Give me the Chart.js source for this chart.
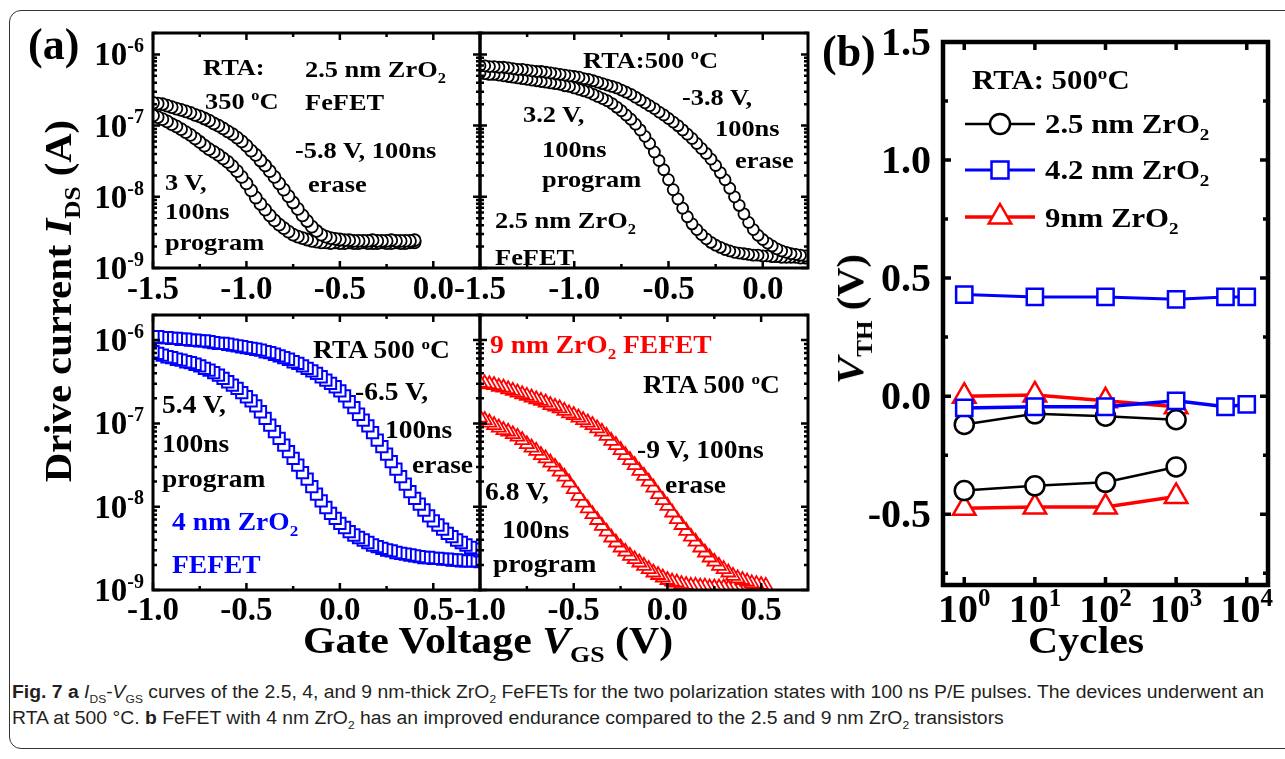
<!DOCTYPE html>
<html>
<head>
<meta charset="utf-8">
<title>Fig. 7 ZrO2 FeFET</title>
<script src="https://cdn.jsdelivr.net/npm/chart.js@4.4.1/dist/chart.umd.min.js"></script>
<style>
  body { margin: 0; background: #fff; }
  #page { position: relative; width: 1285px; height: 759px; overflow: hidden;
          font-family: "Liberation Serif", "Times New Roman", serif; color: #000; }
  #box { position: absolute; left: 9px; top: 10px; width: 1340px; height: 739px;
         border: 1.5px solid #333; border-radius: 12px; box-sizing: border-box; }
  canvas { position: absolute; }
  .t { position: absolute; font-weight: bold; white-space: nowrap; line-height: 1;
       transform-origin: 0 0; transform: scaleX(1.1); }
  .t sub, .t sup, .rt sub, .cap sub { font-size: 62%; line-height: 0; }
  .rt { position: absolute; font-weight: bold; font-size: 38px; white-space: nowrap; line-height: 1;
        transform: translate(-50%, -50%) rotate(-90deg) scaleX(1.07); }
  .cap { position: absolute; left: 12px; font-size: 18px; line-height: 1; white-space: nowrap;
         font-family: "Liberation Sans Narrow", "Liberation Sans", "Open Sans", sans-serif;
         color: #231f20; transform-origin: 0 0; }
</style>
</head>
<body>
<div id="page">
  <div id="box"></div>
  <canvas id="cTL" width="450" height="300" style="left:40px;top:20px"></canvas>
  <canvas id="cTR" width="400" height="300" style="left:420px;top:20px"></canvas>
  <canvas id="cBL" width="450" height="350" style="left:40px;top:300px"></canvas>
  <canvas id="cBR" width="400" height="350" style="left:420px;top:300px"></canvas>
  <canvas id="cB" width="425" height="630" style="left:860px;top:20px"></canvas>
  <div class="rt" style="left:58px;top:301px">Drive current <i>I</i><sub>DS</sub> (A)</div>
  <div class="rt" style="left:850px;top:319px"><i>V</i><sub>TH</sub> (V)</div>
  <div class="cap" id="cap1" style="top:683px"><b>Fig. 7 a</b> <i>I</i><sub>DS</sub>-<i>V</i><sub>GS</sub> curves of the 2.5, 4, and 9 nm-thick ZrO<sub>2</sub> FeFETs for the two polarization states with 100 ns P/E pulses. The devices underwent an</div>
  <div class="cap" id="cap2" style="top:709px">RTA at 500 °C. <b>b</b> FeFET with 4 nm ZrO<sub>2</sub> has an improved endurance compared to the 2.5 and 9 nm ZrO<sub>2</sub> transistors</div>
</div>

<script>
// gate voltage sweeps (V)
const vgsTop = [-1.5,-1.475,-1.45,-1.425,-1.4,-1.375,-1.35,-1.325,-1.3,-1.275,
  -1.25,-1.225,-1.2,-1.175,-1.15,-1.125,-1.1,-1.075,-1.05,-1.025,
  -1,-0.975,-0.95,-0.925,-0.9,-0.875,-0.85,-0.825,-0.8,-0.775,
  -0.75,-0.725,-0.7,-0.675,-0.65,-0.625,-0.6,-0.575,-0.55,-0.525,
  -0.5,-0.475,-0.45,-0.425,-0.4,-0.375,-0.35,-0.325,-0.3,-0.275,
  -0.25,-0.225,-0.2,-0.175,-0.15,-0.125,-0.1,-0.075,-0.05,-0.025,
  0,0.025,0.05,0.075,0.1,0.125,0.15,0.175,0.2,0.225];
const vgsBottom = [-1,-0.975,-0.95,-0.925,-0.9,-0.875,-0.85,-0.825,-0.8,-0.775,
  -0.75,-0.725,-0.7,-0.675,-0.65,-0.625,-0.6,-0.575,-0.55,-0.525,
  -0.5,-0.475,-0.45,-0.425,-0.4,-0.375,-0.35,-0.325,-0.3,-0.275,
  -0.25,-0.225,-0.2,-0.175,-0.15,-0.125,-0.1,-0.075,-0.05,-0.025,
  0,0.025,0.05,0.075,0.1,0.125,0.15,0.175,0.2,0.225,
  0.25,0.275,0.3,0.325,0.35,0.375,0.4,0.425,0.45,0.475,
  0.5,0.525,0.55,0.575,0.6,0.625,0.65,0.675,0.7,0.725,0.75];

// log10(IDS / A)
// 2.5 nm, RTA 350 C
const logIds25_350Erase = [-6.68,-6.69,-6.70,-6.72,-6.74,-6.76,-6.78,-6.80,-6.82,-6.85,
  -6.87,-6.90,-6.93,-6.97,-7.00,-7.04,-7.08,-7.12,-7.17,-7.22,
  -7.28,-7.35,-7.41,-7.49,-7.56,-7.64,-7.72,-7.81,-7.90,-7.99,
  -8.08,-8.17,-8.26,-8.34,-8.42,-8.48,-8.53,-8.56,-8.58,-8.59,
  -8.60,-8.61,-8.61,-8.62,-8.62,-8.62,-8.62,-8.61,-8.62,-8.62,
  -8.62,-8.61,-8.62,-8.62,-8.62,-8.62,-8.61];
const logIds25_350Program = [-6.86,-6.88,-6.91,-6.94,-6.98,-7.01,-7.05,-7.09,-7.13,-7.18,
  -7.23,-7.28,-7.33,-7.37,-7.41,-7.46,-7.51,-7.57,-7.64,-7.72,
  -7.81,-7.91,-8.01,-8.10,-8.18,-8.26,-8.33,-8.39,-8.44,-8.49,
  -8.53,-8.56,-8.58,-8.60,-8.62,-8.63,-8.64,-8.64,-8.65,-8.64,
  -8.65,-8.65,-8.64,-8.65,-8.65,-8.64,-8.65,-8.65,-8.65,-8.64,
  -8.65,-8.65,-8.64,-8.65,-8.65,-8.64,-8.64];
// 2.5 nm, RTA 500 C
const logIds25_500Erase = [-6.16,-6.16,-6.17,-6.17,-6.18,-6.18,-6.19,-6.20,-6.21,-6.21,
  -6.22,-6.23,-6.24,-6.24,-6.25,-6.26,-6.27,-6.28,-6.29,-6.30,
  -6.31,-6.32,-6.34,-6.35,-6.37,-6.39,-6.41,-6.43,-6.45,-6.47,
  -6.50,-6.53,-6.56,-6.60,-6.64,-6.68,-6.72,-6.76,-6.81,-6.85,
  -6.90,-6.95,-7.00,-7.06,-7.12,-7.18,-7.25,-7.32,-7.39,-7.47,
  -7.56,-7.66,-7.76,-7.88,-8.00,-8.12,-8.24,-8.36,-8.46,-8.54,
  -8.60,-8.65,-8.69,-8.73,-8.76,-8.78,-8.80,-8.81,-8.82,-8.83];
const logIds25_500Program = [-6.26,-6.27,-6.28,-6.28,-6.29,-6.30,-6.31,-6.32,-6.33,-6.34,
  -6.35,-6.36,-6.37,-6.38,-6.39,-6.40,-6.41,-6.42,-6.44,-6.45,
  -6.47,-6.49,-6.51,-6.53,-6.56,-6.59,-6.62,-6.65,-6.69,-6.74,
  -6.79,-6.85,-6.91,-6.98,-7.06,-7.15,-7.25,-7.37,-7.49,-7.62,
  -7.76,-7.90,-8.03,-8.16,-8.28,-8.38,-8.46,-8.53,-8.59,-8.64,
  -8.68,-8.71,-8.74,-8.76,-8.78,-8.79,-8.80,-8.81,-8.82,-8.82,
  -8.83,-8.83,-8.84,-8.84,-8.85,-8.85,-8.85,-8.85,-8.86,-8.86];
// 4 nm, RTA 500 C
const logIds4Erase = [-5.96,-5.96,-5.97,-5.97,-5.98,-5.98,-5.99,-5.99,-6.00,-6.00,
  -6.01,-6.01,-6.02,-6.03,-6.04,-6.04,-6.05,-6.06,-6.07,-6.08,
  -6.09,-6.10,-6.11,-6.12,-6.14,-6.15,-6.17,-6.19,-6.21,-6.23,
  -6.26,-6.28,-6.31,-6.34,-6.37,-6.40,-6.44,-6.48,-6.52,-6.56,
  -6.61,-6.67,-6.74,-6.81,-6.89,-6.96,-7.03,-7.11,-7.20,-7.28,
  -7.37,-7.46,-7.55,-7.64,-7.73,-7.82,-7.90,-7.97,-8.04,-8.11,
  -8.17,-8.22,-8.27,-8.32,-8.36,-8.40,-8.43,-8.46,-8.49,-8.51,-8.53];
const logIds4Program = [-6.14,-6.16,-6.18,-6.20,-6.21,-6.23,-6.24,-6.26,-6.27,-6.29,
  -6.31,-6.34,-6.36,-6.39,-6.42,-6.46,-6.50,-6.54,-6.58,-6.63,
  -6.68,-6.73,-6.79,-6.86,-6.94,-7.02,-7.10,-7.18,-7.26,-7.34,
  -7.42,-7.50,-7.59,-7.67,-7.76,-7.85,-7.93,-8.01,-8.08,-8.14,
  -8.20,-8.25,-8.30,-8.34,-8.37,-8.40,-8.43,-8.46,-8.48,-8.50,
  -8.52,-8.53,-8.55,-8.56,-8.57,-8.58,-8.59,-8.60,-8.61,-8.61,
  -8.62,-8.62,-8.63,-8.63,-8.64,-8.64,-8.65,-8.65,-8.65,-8.65,-8.66];
// 9 nm, RTA 500 C
const logIds9Erase = [-6.51,-6.52,-6.53,-6.54,-6.56,-6.57,-6.59,-6.61,-6.63,-6.65,
  -6.67,-6.69,-6.71,-6.73,-6.75,-6.78,-6.80,-6.82,-6.85,-6.88,
  -6.90,-6.93,-6.96,-6.99,-7.02,-7.06,-7.10,-7.15,-7.21,-7.26,
  -7.32,-7.38,-7.44,-7.50,-7.57,-7.63,-7.70,-7.77,-7.85,-7.92,
  -7.99,-8.07,-8.15,-8.22,-8.29,-8.36,-8.42,-8.49,-8.55,-8.61,
  -8.66,-8.71,-8.75,-8.79,-8.83,-8.86,-8.88,-8.90,-8.92,-8.93,
  -8.94,-8.95];
const logIds9Program = [-6.93,-6.96,-6.99,-7.02,-7.05,-7.08,-7.10,-7.13,-7.16,-7.20,
  -7.25,-7.29,-7.33,-7.38,-7.42,-7.47,-7.52,-7.58,-7.64,-7.71,
  -7.79,-7.87,-7.95,-8.02,-8.09,-8.16,-8.23,-8.30,-8.37,-8.43,
  -8.49,-8.54,-8.59,-8.63,-8.67,-8.71,-8.75,-8.79,-8.82,-8.85,
  -8.88,-8.90,-8.91,-8.93,-8.94,-8.95,-8.95,-8.96,-8.96,-8.97,
  -8.97,-8.97,-8.97,-8.98,-8.98,-8.98,-8.98,-8.98,-8.98,-8.98,-8.98];

// panel (b): threshold voltage vs cycles
const cycles = [1, 10, 100, 1000, 5000, 10000];
const vth42High = [0.43, 0.42, 0.42, 0.41, 0.42, 0.42];
const vth42Low = [-0.05, -0.045, -0.045, -0.02, -0.045, -0.035];
const vth25High = [-0.12, -0.075, -0.085, -0.10];
const vth25Low = [-0.40, -0.38, -0.365, -0.30];
const vth9High = [0.0, 0.005, -0.02, -0.045];
const vth9Low = [-0.475, -0.47, -0.47, -0.425];

// tick labels
const xTicksTop = [-1.5, -1, -0.5, 0];
const xTicksBottom = [-1, -0.5, 0, 0.5];
const yTicksIds = [1e-9, 1e-8, 1e-7, 1e-6];
const xTicksCycles = [1, 10, 100, 1000, 10000];
const yTicksVth = [1.5, 1, 0.5, 0, -0.5];

const SERIF = '"Liberation Serif", "Times New Roman", serif';
const BLUE = '#0000ff', RED = '#ff0000';

// minor ticks of the log current axis: 2..9 x each decade
const logMinor = [];
[-9, -8, -7, -6].forEach(e => {
  for (let m = 2; m <= 9; m++) if (m * Math.pow(10, e) <= 2e-6) logMinor.push(m * Math.pow(10, e));
});

function tickLabel(ctx, x, y, v, isLog, size, align) {
  // y = vertical centre of the digits
  const base = y + size * 0.33;
  ctx.font = `bold ${size}px ${SERIF}`;
  if (!isLog) {
    ctx.textAlign = align;
    ctx.fillText(v.toFixed(1), x, base);
    return;
  }
  const exp = String(Math.round(Math.log10(v)));
  const supSize = Math.round(size * 0.62);
  ctx.textAlign = 'left';
  const w1 = ctx.measureText('10').width;
  ctx.font = `bold ${supSize}px ${SERIF}`;
  const w2 = ctx.measureText(exp).width;
  const x0 = align === 'right' ? x - w1 - w2 : x - (w1 + w2) / 2;
  ctx.font = `bold ${size}px ${SERIF}`;
  ctx.fillText('10', x0, base);
  ctx.font = `bold ${supSize}px ${SERIF}`;
  ctx.fillText(exp, x0 + w1, base - size * 0.4);
}

// frame, inward ticks on all four sides, tick labels
function axisDeco(cfg) {
  return {
    id: 'axisDeco',
    afterDatasetsDraw(chart) {
      const { ctx, chartArea: a } = chart;
      const xs = chart.scales.x, ys = chart.scales.y;
      ctx.save();
      ctx.strokeStyle = '#000';
      ctx.fillStyle = '#000';
      ctx.lineWidth = cfg.tickWidth;
      const xTick = (v, len) => {
        const p = xs.getPixelForValue(v);
        ctx.beginPath();
        ctx.moveTo(p, a.bottom); ctx.lineTo(p, a.bottom - len);
        ctx.moveTo(p, a.top); ctx.lineTo(p, a.top + len);
        ctx.stroke();
      };
      const yTick = (v, len) => {
        const p = ys.getPixelForValue(v);
        ctx.beginPath();
        ctx.moveTo(a.left, p); ctx.lineTo(a.left + len, p);
        ctx.moveTo(a.right, p); ctx.lineTo(a.right - len, p);
        ctx.stroke();
      };
      cfg.xMajor.forEach(v => xTick(v, cfg.major));
      cfg.xMinor.forEach(v => xTick(v, cfg.minor));
      cfg.yMajor.forEach(v => yTick(v, cfg.major));
      cfg.yMinor.forEach(v => yTick(v, cfg.minor));
      ctx.lineWidth = cfg.frame;
      ctx.strokeRect(a.left, a.top, a.right - a.left, a.bottom - a.top);
      ctx.textBaseline = 'alphabetic';
      if (cfg.xLabels) cfg.xMajor.forEach(v =>
        tickLabel(ctx, xs.getPixelForValue(v), a.bottom + cfg.xGap, v, cfg.xLog, cfg.font, 'center'));
      if (cfg.yLabels) cfg.yMajor.forEach(v =>
        tickLabel(ctx, a.left - cfg.yGap, ys.getPixelForValue(v), v, cfg.yLog, cfg.font, 'right'));
      ctx.restore();
    }
  };
}

function ivSet(vgs, logIds, color, style, r, bw) {
  // reversed so the left-most marker ends up on top, as in the figure
  const pts = logIds.map((l, i) => ({ x: vgs[i], y: Math.pow(10, l) })).reverse();
  return {
    data: pts, showLine: false, pointStyle: style,
    pointRadius: r, pointHoverRadius: r, pointBorderWidth: bw,
    pointBorderColor: color, pointBackgroundColor: '#fff'
  };
}

function ivChart(id, sets, xMin, xMax, pad, deco) {
  return new Chart(document.getElementById(id), {
    type: 'scatter',
    data: { datasets: sets },
    options: {
      responsive: false,
      animation: false,
      events: [],
      layout: { padding: pad },
      plugins: { legend: { display: false }, tooltip: { enabled: false } },
      scales: {
        x: { type: 'linear', min: xMin, max: xMax, display: false },
        y: { type: 'logarithmic', min: 1e-9, max: 2e-6, display: false }
      }
    },
    plugins: [axisDeco(deco)]
  });
}

const decoA = {
  yMajor: yTicksIds, yMinor: logMinor, xLog: false, yLog: true,
  font: 33, yGap: 9, xGap: 20, frame: 3, tickWidth: 2.5, major: 7, minor: 4
};

ivChart('cTL', [
  ivSet(vgsTop, logIds25_350Erase, '#000', 'circle', 6, 1.8),
  ivSet(vgsTop, logIds25_350Program, '#000', 'circle', 6, 1.8)
], -1.5, 0.25, { left: 113, top: 13, right: 10, bottom: 52 },
  Object.assign({}, decoA, { xMajor: xTicksTop, xMinor: [-1.25, -0.75, -0.25], xLabels: true, yLabels: true }));

ivChart('cTR', [
  ivSet(vgsTop, logIds25_500Erase, '#000', 'circle', 5.5, 1.8),
  ivSet(vgsTop, logIds25_500Program, '#000', 'circle', 5.5, 1.8)
], -1.5, 0.24, { left: 60, top: 13, right: 12, bottom: 52 },
  Object.assign({}, decoA, { xMajor: xTicksTop, xMinor: [-1.25, -0.75, -0.25], xLabels: true, yLabels: false }));

ivChart('cBL', [
  ivSet(vgsBottom, logIds4Erase, BLUE, 'rect', 8, 2),
  ivSet(vgsBottom, logIds4Program, BLUE, 'rect', 8, 2)
], -1, 0.75, { left: 113, top: 15, right: 10, bottom: 60 },
  Object.assign({}, decoA, { xMajor: xTicksBottom, xMinor: [-0.75, -0.25, 0.25], xLabels: true, yLabels: true, xGap: 19 }));

ivChart('cBR', [
  ivSet(vgsBottom, logIds9Erase, RED, 'triangle', 8, 1.8),
  ivSet(vgsBottom, logIds9Program, RED, 'triangle', 8, 1.8)
], -1, 0.75, { left: 60, top: 15, right: 12, bottom: 60 },
  Object.assign({}, decoA, { xMajor: xTicksBottom, xMinor: [-0.75, -0.25, 0.25], xLabels: true, yLabels: false, xGap: 19 }));

// panel (b)
function vthSet(vals, color, style, r, lw) {
  return {
    data: vals.map((v, i) => ({ x: cycles[i], y: v })),
    showLine: true, borderColor: color, borderWidth: lw,
    pointStyle: style, pointRadius: r, pointHoverRadius: r, pointBorderWidth: 2.5,
    pointBorderColor: color, pointBackgroundColor: '#fff'
  };
}

function mark(ctx, style, x, y, r) {
  ctx.beginPath();
  if (style === 'circle') ctx.arc(x, y, r, 0, Math.PI * 2);
  else if (style === 'rect') { const s = r * Math.SQRT1_2; ctx.rect(x - s, y - s, 2 * s, 2 * s); }
  else { ctx.moveTo(x, y - r); ctx.lineTo(x + r * 0.866, y + r / 2); ctx.lineTo(x - r * 0.866, y + r / 2); ctx.closePath(); }
  ctx.fill();
  ctx.stroke();
}

// legend symbols, canvas coordinates
const keyItems = [
  { y: 104, color: '#000', style: 'circle', r: 10, lw: 2.5 },
  { y: 150, color: BLUE, style: 'rect', r: 12, lw: 3 },
  { y: 197, color: RED, style: 'triangle', r: 13, lw: 3.5 }
];
const legendKey = {
  id: 'legendKey',
  afterDatasetsDraw(chart) {
    const ctx = chart.ctx;
    ctx.save();
    keyItems.forEach(it => {
      ctx.strokeStyle = it.color;
      ctx.lineWidth = it.lw;
      ctx.beginPath(); ctx.moveTo(105, it.y); ctx.lineTo(175, it.y); ctx.stroke();
      ctx.lineWidth = 2.5;
      ctx.fillStyle = '#fff';
      mark(ctx, it.style, 140, it.y, it.r);
    });
    ctx.restore();
  }
};

new Chart(document.getElementById('cB'), {
  type: 'scatter',
  data: {
    datasets: [
      vthSet(vth42High, BLUE, 'rect', 11.5, 3),
      vthSet(vth42Low, BLUE, 'rect', 11.5, 3.5),
      vthSet(vth25High, '#000', 'circle', 9.5, 2.5),
      vthSet(vth25Low, '#000', 'circle', 9.5, 2.5),
      vthSet(vth9High, RED, 'triangle', 13, 3.5),
      vthSet(vth9Low, RED, 'triangle', 13, 3.5)
    ]
  },
  options: {
    responsive: false,
    animation: false,
    events: [],
    layout: { padding: { left: 83, top: 22, right: 17, bottom: 65 } },
    plugins: { legend: { display: false }, tooltip: { enabled: false } },
    scales: {
      x: { type: 'logarithmic', min: 0.5, max: 2e4, display: false },
      y: { type: 'linear', min: -0.8, max: 1.5, display: false }
    }
  },
  plugins: [legendKey, axisDeco({
    xMajor: xTicksCycles, xMinor: [], yMajor: yTicksVth, yMinor: [1.25, 0.75, 0.25, -0.25, -0.75],
    xLog: true, yLog: false, xLabels: true, yLabels: true,
    font: 40, xGap: 24, yGap: 12, frame: 4.5, tickWidth: 3.5, major: 8, minor: 5
  })]
});

// text placed on the figure: [x, baseline, font size, colour, html]
const notes = [
  [28, 60, 44, '#000', '(a)'],
  [822, 67, 44, '#000', '(b)'],
  // 2.5 nm, 350 C
  [203, 75, 24, '#000', 'RTA:'],
  [205, 109, 24, '#000', '350 <sup>o</sup>C'],
  [305, 77, 24, '#000', '2.5 nm ZrO<sub>2</sub>'],
  [305, 110, 24, '#000', 'FeFET'],
  [295, 158, 24, '#000', '-5.8 V, 100ns'],
  [308, 192, 24, '#000', 'erase'],
  [165, 190, 24, '#000', '3 V,'],
  [165, 219, 24, '#000', '100ns'],
  [165, 250, 24, '#000', 'program'],
  // 2.5 nm, 500 C
  [583, 68, 24, '#000', 'RTA:500 <sup>o</sup>C'],
  [682, 105, 24, '#000', '-3.8 V,'],
  [715, 136, 24, '#000', '100ns'],
  [735, 168, 24, '#000', 'erase'],
  [523, 122, 24, '#000', '3.2 V,'],
  [542, 157, 24, '#000', '100ns'],
  [542, 187, 24, '#000', 'program'],
  [495, 228, 24, '#000', '2.5 nm ZrO<sub>2</sub>'],
  [495, 265, 24, '#000', 'FeFET'],
  // 4 nm
  [313, 358, 25, '#000', 'RTA 500 <sup>o</sup>C'],
  [355, 400, 25, '#000', '-6.5 V,'],
  [385, 438, 25, '#000', '100ns'],
  [412, 473, 25, '#000', 'erase'],
  [162, 413, 25, '#000', '5.4 V,'],
  [162, 452, 25, '#000', '100ns'],
  [162, 487, 25, '#000', 'program'],
  [172, 530, 25, BLUE, '4 nm ZrO<sub>2</sub>'],
  [172, 573, 25, BLUE, 'FEFET'],
  // 9 nm
  [490, 353, 25, RED, '9 nm ZrO<sub>2</sub> FEFET'],
  [643, 393, 25, '#000', 'RTA 500 <sup>o</sup>C'],
  [637, 458, 25, '#000', '-9 V, 100ns'],
  [665, 493, 25, '#000', 'erase'],
  [485, 500, 25, '#000', '6.8 V,'],
  [502, 538, 25, '#000', '100ns'],
  [493, 572, 25, '#000', 'program'],
  // axis titles
  [303, 653, 38, '#000', 'Gate Voltage <i>V</i><sub>GS</sub> (V)'],
  [1028, 653, 38, '#000', 'Cycles'],
  // panel (b) legend
  [972, 89, 28, '#000', 'RTA: 500<sup>o</sup>C'],
  [1045, 133, 28, '#000', '2.5 nm ZrO<sub>2</sub>'],
  [1045, 179, 28, '#000', '4.2 nm ZrO<sub>2</sub>'],
  [1045, 227, 28, '#000', '9nm ZrO<sub>2</sub>']
];
const page = document.getElementById('page');
notes.forEach(([x, base, size, color, html]) => {
  const d = document.createElement('div');
  d.className = 't';
  d.style.left = x + 'px';
  d.style.top = (base - 0.8375 * size) + 'px';
  d.style.fontSize = size + 'px';
  d.style.color = color;
  if (size === 44) d.style.transform = 'none';
  d.innerHTML = html;
  page.appendChild(d);
});

// squeeze the caption to the printed line width
const k = 1252 / document.getElementById('cap1').offsetWidth;
document.querySelectorAll('.cap').forEach(el => { el.style.transform = `scaleX(${k})`; });
</script>
</body>
</html>
